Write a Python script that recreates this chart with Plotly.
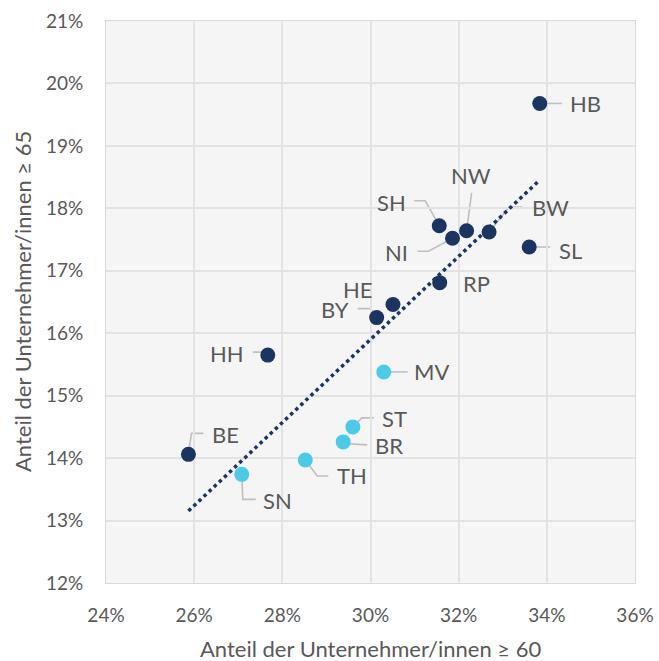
import numpy as np
import plotly.graph_objects as go

# Data (shares in %)
states = ["HB", "SH", "NI", "NW", "BW", "SL", "RP", "HE", "BY", "HH", "BE",
          "MV", "ST", "BR", "TH", "SN"]
share60 = [33.84, 31.56, 31.86, 32.18, 32.69, 33.60, 31.57, 30.51, 30.14, 27.67, 25.87,
           30.30, 29.60, 29.38, 28.52, 27.08]
share65 = [19.68, 17.72, 17.52, 17.64, 17.62, 17.38, 16.81, 16.46, 16.25, 15.65, 14.06,
           15.38, 14.50, 14.26, 13.97, 13.74]
east = [False] * 11 + [True] * 5

x_ticks = [24, 26, 28, 30, 32, 34, 36]
y_ticks = list(range(12, 22))

NAVY = "#1b3563"
CYAN = "#4ccbe9"
GRAY_TXT = "#595959"
LEADER = "#bfbfbf"
FONT = "Lato"

# label placement: (label dx, label dy, leader path points) in screen pixels (dy down positive)
layout_lbl = {
    "HB": (46, 0, [(22, 0)]),
    "SH": (-48, -23, [(-14, -25), (-25, -25)]),
    "NI": (-56, 14, [(-24, 13), (-35, 13)]),
    "NW": (4, -55, [(5, -38)]),
    "BW": (61, -25, [(20, -25), (33, -25)]),
    "SL": (41, 3, [(21, 0)]),
    "RP": (37, 1, None),
    "HE": (-35, -15, None),
    "BY": (-42, -8, [(-6, -9), (-19, -9)]),
    "HH": (-41, -2, [(-3, -3), (-15, -3)]),
    "MV": (48, 0, [(24, 0)]),
    "ST": (42, -8, [(9, -9), (21, -9)]),
    "BR": (46, 4, [(7, 2), (24, 3)]),
    "TH": (47, 16, [(12, 16), (23, 16)]),
    "BE": (37, -20, [(3, -21), (15, -21)]),
    "SN": (36, 26, [(1, 25), (14, 25)]),
}

fig = go.Figure()

# trend line (least squares over all states)
slope, intercept = np.polyfit(share60, share65, 1)
tx = np.array([min(share60), max(share60)])
fig.add_trace(go.Scatter(x=tx, y=slope * tx + intercept, mode="lines",
                         line=dict(color=NAVY, width=3.5, dash="dot"),
                         hoverinfo="skip", showlegend=False))

for is_east, col in [(False, NAVY), (True, CYAN)]:
    xs = [x for x, e in zip(share60, east) if e == is_east]
    ys = [y for y, e in zip(share65, east) if e == is_east]
    ns = [s for s, e in zip(states, east) if e == is_east]
    fig.add_trace(go.Scatter(x=xs, y=ys, mode="markers", text=ns,
                             marker=dict(color=col, size=15, line=dict(width=0)),
                             showlegend=False))

shapes = []
annotations = []
for s, x, y in zip(states, share60, share65):
    ldx, ldy, path = layout_lbl[s]
    annotations.append(dict(x=x, y=y, xref="x", yref="y", text=s, showarrow=False,
                            xshift=ldx, yshift=-ldy,
                            font=dict(family=FONT, size=22, color=GRAY_TXT)))
    if path:
        d = "M 0 0 " + " ".join(f"L {px} {-py}" for px, py in path)
        shapes.append(dict(type="path", xref="x", yref="y", xsizemode="pixel",
                           ysizemode="pixel", xanchor=x, yanchor=y, path=d,
                           line=dict(color=LEADER, width=1.6), layer="below"))

# axis titles
annotations.append(dict(x=0.5, y=0, xref="paper", yref="paper", yshift=-65,
                        text="Anteil der Unternehmer/innen ≥ 60", showarrow=False,
                        xanchor="center", yanchor="middle",
                        font=dict(family=FONT, size=22, color=GRAY_TXT)))
annotations.append(dict(x=0, y=0.5, xref="paper", yref="paper", xshift=-84,
                        text="Anteil der Unternehmer/innen ≥ 65", showarrow=False,
                        textangle=-90, xanchor="center", yanchor="middle",
                        font=dict(family=FONT, size=22, color=GRAY_TXT)))

fig.update_layout(
    width=659, height=661,
    margin=dict(l=106, r=24, t=21, b=78),
    paper_bgcolor="white", plot_bgcolor="#f5f5f5",
    font=dict(family=FONT, color=GRAY_TXT),
    shapes=shapes, annotations=annotations,
    xaxis=dict(range=[24, 36], tickvals=x_ticks, ticktext=[f"{v}%" for v in x_ticks],
               showgrid=True, gridcolor="#e3e3e3", gridwidth=2, zeroline=False,
               showline=True, linecolor="#d9d9d9", linewidth=1, mirror=True,
               tickfont=dict(size=19, color=GRAY_TXT), automargin=False,
               ticks="outside", ticklen=15, tickcolor="rgba(0,0,0,0)"),
    yaxis=dict(range=[12, 21], tickvals=y_ticks, ticktext=[f"{v}%" for v in y_ticks],
               showgrid=True, gridcolor="#e3e3e3", gridwidth=2, zeroline=False,
               showline=True, linecolor="#d9d9d9", linewidth=1, mirror=True,
               tickfont=dict(size=19, color=GRAY_TXT), automargin=False,
               ticks="outside", ticklen=18, tickcolor="rgba(0,0,0,0)"),
)

fig.write_html("out.html", config={"displayModeBar": False},
               post_script="document.body.style.margin='0';")
